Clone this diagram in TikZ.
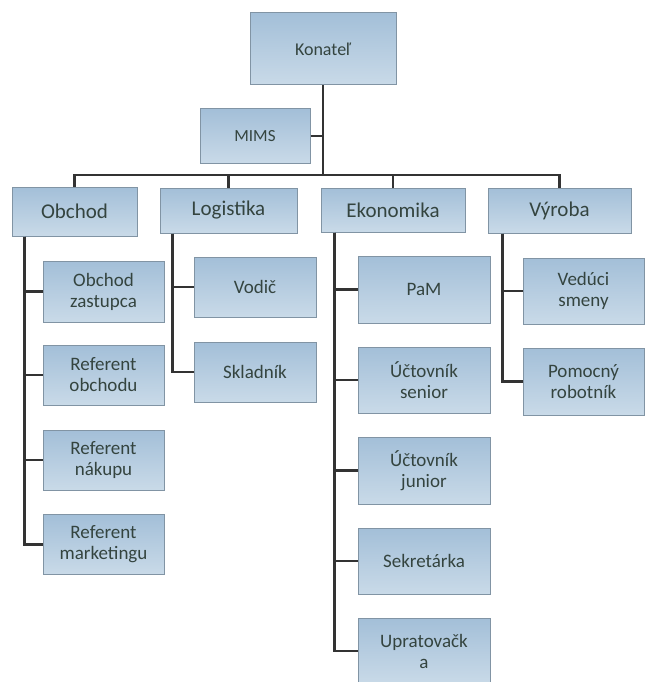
\documentclass[tikz,border=0pt]{standalone}
\usepackage{fontspec}
\setmainfont{Carlito}
\usepackage{tikz}
\definecolor{boxtop}{HTML}{A3BFD8}
\definecolor{boxbottom}{HTML}{C9DAE8}
\definecolor{boxline}{HTML}{8194A4}
\definecolor{boxtext}{HTML}{34443F}
\definecolor{wire}{HTML}{333333}

\begin{document}
\begin{tikzpicture}[x=1pt, y=-1pt,
    box/.style={draw=boxline, line width=1pt, top color=boxtop, bottom color=boxbottom,
        text=boxtext, align=center, inner sep=2pt, font=\fontsize{19}{21}\selectfont},
    head/.style={box, font=\fontsize{21}{23}\selectfont},
    wire/.style={draw=wire, line width=2.2pt}]
    \useasboundingbox (0,0) rectangle (646,682);

    \node[box, minimum width=146pt, minimum height=72pt, font=\fontsize{18}{20}\selectfont] at (323,49) (konatel) {Konateľ};
    \node[box, minimum width=110pt, minimum height=54pt, font=\fontsize{17}{19}\selectfont] at (255,136) (mims) {MIMS};

    \node[head, minimum width=125pt, minimum height=49pt] at (74.5,211.5) (obchod) {Obchod};
    \node[head, minimum width=137pt, minimum height=45pt] at (228.5,210.5) (logistika) {Logistika};
    \node[head, minimum width=144pt, minimum height=44pt] at (393,210) (ekonomika) {Ekonomika};
    \node[head, minimum width=143pt, minimum height=45pt] at (559.5,210.5) (vyroba) {Výroba};

    % Obchod
    \node[box, minimum width=121pt, minimum height=61pt] at (103.5,291.5) (zastupca) {Obchod\\zastupca};
    \node[box, minimum width=121pt, minimum height=60pt] at (103.5,375) (refobchodu) {Referent\\obchodu};
    \node[box, minimum width=121pt, minimum height=60pt] at (103.5,460) (refnakupu) {Referent\\nákupu};
    \node[box, minimum width=121pt, minimum height=60pt] at (103.5,544.5) (refmarketingu) {Referent\\marketingu};

    % Logistika
    \node[box, minimum width=122pt, minimum height=60pt] at (255,287) (vodic) {Vodič};
    \node[box, minimum width=122pt, minimum height=60pt] at (255,372) (skladnik) {Skladník};

    % Ekonomika
    \node[box, minimum width=132pt, minimum height=67pt] at (424,289.5) (pam) {PaM};
    \node[box, minimum width=132pt, minimum height=66pt] at (424,380) (senior) {Účtovník\\senior};
    \node[box, minimum width=132pt, minimum height=67pt] at (424,470.5) (junior) {Účtovník\\junior};
    \node[box, minimum width=132pt, minimum height=66pt] at (424,561) (sekretarka) {Sekretárka};
    \node[box, minimum width=132pt, minimum height=66pt] at (424,651) (upratovacka) {Upratovačk\\a};

    % Vyroba
    \node[box, minimum width=121pt, minimum height=66pt] at (583.5,291) (veduci) {Vedúci\\smeny};
    \node[box, minimum width=121pt, minimum height=67pt] at (583.5,381.5) (pomocny) {Pomocný\\robotník};

    \coordinate (bus) at (0,175);
    \draw[wire] (konatel.south) -- (konatel.south |- bus);
    \draw[wire] (mims.east) -- (mims.east -| konatel.south);
    \draw[wire] (obchod.north) -- (obchod.north |- bus) -- (vyroba.north |- bus) -- (vyroba.north);
    \draw[wire] (logistika.north) -- (logistika.north |- bus);
    \draw[wire] (ekonomika.north) -- (ekonomika.north |- bus);

    \coordinate (obchodtrunk) at ([xshift=13pt]obchod.south west);
    \coordinate (logistikatrunk) at ([xshift=13pt]logistika.south west);
    \coordinate (ekonomikatrunk) at ([xshift=14pt]ekonomika.south west);
    \coordinate (vyrobatrunk) at ([xshift=15pt]vyroba.south west);

    \foreach \child in {zastupca,refobchodu,refnakupu,refmarketingu}
        \draw[wire] (obchodtrunk) |- (\child.west);
    \foreach \child in {vodic,skladnik}
        \draw[wire] (logistikatrunk) |- (\child.west);
    \foreach \child in {pam,senior,junior,sekretarka,upratovacka}
        \draw[wire] (ekonomikatrunk) |- (\child.west);
    \foreach \child in {veduci,pomocny}
        \draw[wire] (vyrobatrunk) |- (\child.west);

\end{tikzpicture}
\end{document}
